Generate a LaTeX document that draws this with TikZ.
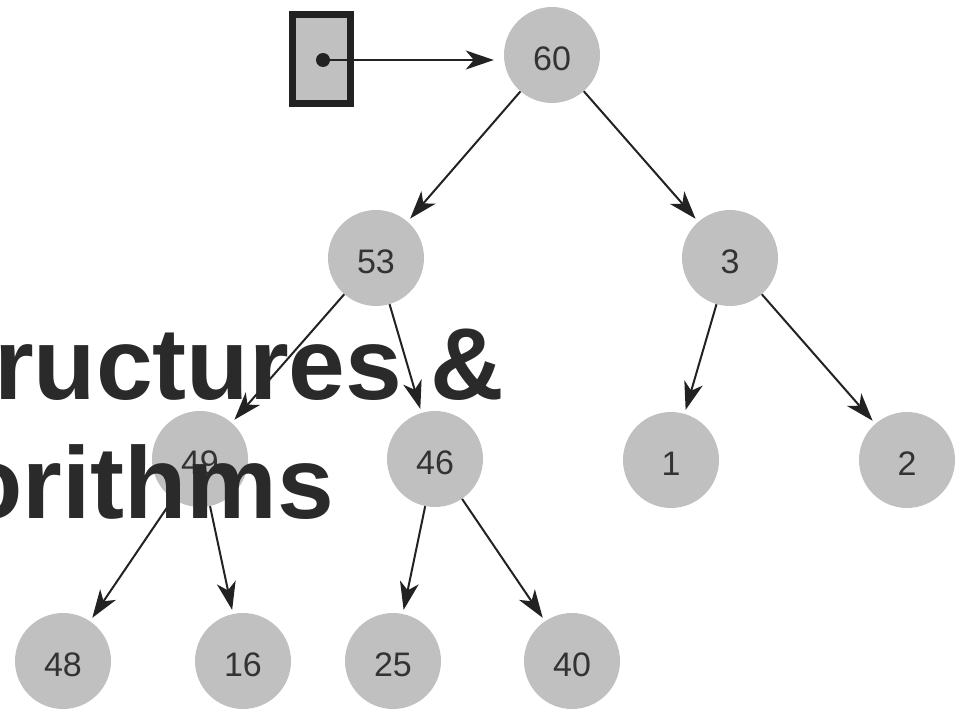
\documentclass[tikz,border=0pt]{standalone}
\usepackage{fontspec}
\setmainfont{Liberation Sans}
\usetikzlibrary{arrows.meta}
\definecolor{nodegrey}{HTML}{C0C0C0}
\definecolor{ink}{HTML}{222222}
\definecolor{numink}{HTML}{333333}
\definecolor{titleink}{HTML}{2A2A2A}
\begin{document}
\begin{tikzpicture}[x=1pt,y=-1pt,
  heapnode/.style={circle, fill=nodegrey, inner sep=0pt, minimum size=96pt,
    text=numink, font=\fontsize{34}{34}\selectfont, text height=30pt, text depth=0pt},
  link/.style={draw=ink, line width=2pt,
    -{Stealth[length=28pt,width=19pt,inset=8pt]}, shorten >=4pt},
  titletext/.style={anchor=base west, inner sep=0pt, text=titleink,
    font=\fontsize{102}{102}\selectfont\bfseries}]
\useasboundingbox (0,0) rectangle (969,712);
\clip (0,0) rectangle (969,712);

% pointer cell holding the root reference
\node[draw=ink, line width=7pt, fill=nodegrey, minimum width=58pt,
      minimum height=89pt, inner sep=0pt] (ptr) at (321.5,59) {};
\node[circle, fill=ink, inner sep=0pt, minimum size=14pt] (dot) at (323,60) {};

% heap nodes
\node[heapnode] (n60) at (552,55)  {60};
\node[heapnode] (n53) at (376,258) {53};
\node[heapnode] (n3)  at (730,258) {3};
\node[heapnode] (n49) at (200,459) {49};
\node[heapnode] (n46) at (435,459) {46};
\node[heapnode] (n1)  at (671,460) {1};
\node[heapnode] (n2)  at (907,460) {2};
\node[heapnode] (n48) at (63,661)  {48};
\node[heapnode] (n16) at (243,661) {16};
\node[heapnode] (n25) at (393,661) {25};
\node[heapnode] (n40) at (572,661) {40};

% links
\draw[link, shorten >=10pt] (dot.center) -- (dot -| n60.west);
\draw[link] (n60) -- (n53);
\draw[link] (n60) -- (n3);
\draw[link] (n53) -- (n49);
\draw[link] (n53) -- (n46);
\draw[link] (n3)  -- (n1);
\draw[link] (n3)  -- (n2);
\draw[link] (n49) -- (n48);
\draw[link] (n49) -- (n16);
\draw[link] (n46) -- (n25);
\draw[link] (n46) -- (n40);

% title lettering laid over the tree
\node[titletext] (t1) at (-6,399) {ructures \&};
\node[titletext] (t2) at (-40,518) {orithms};
\end{tikzpicture}
\end{document}
